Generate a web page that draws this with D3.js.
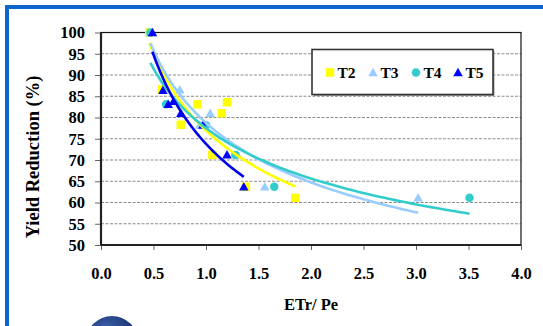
<!DOCTYPE html>
<html>
<head>
<meta charset="utf-8">
<script src="https://cdn.jsdelivr.net/npm/d3@7"></script>
<style>
  body { margin: 0; background: #fff; }
  svg { display: block; }
</style>
</head>
<body>
<div id="chart"></div>
<script>
// values
const seriesNames = ['T2', 'T3', 'T4', 'T5'];
const t2X = [0.46, 0.58, 0.76, 0.92, 1.06, 1.15, 1.20, 1.38, 1.85];
const t2Y = [100, 86.6, 78.3, 83.1, 71.2, 81.0, 83.6, 63.7, 61.1];
const t3X = [0.47, 0.75, 0.94, 1.04, 1.30, 1.56, 3.02];
const t3Y = [100, 86.5, 78.2, 81.0, 71.2, 63.7, 61.1];
const t4X = [0.47, 0.62, 1.00, 1.28, 1.65, 3.51];
const t4Y = [100, 83.1, 78.2, 71.2, 63.7, 61.1];
const t5X = [0.49, 0.59, 0.64, 0.69, 0.76, 0.97, 1.20, 1.36];
const t5Y = [100, 86.4, 83.1, 83.8, 81.0, 78.2, 71.2, 63.7];
const xTicks = [0, 0.5, 1, 1.5, 2, 2.5, 3, 3.5, 4];
const yTicks = [50, 55, 60, 65, 70, 75, 80, 85, 90, 95, 100];

const series = [
  { name: 'T2', xs: t2X, ys: t2Y, color: '#ffff00', line: '#ffff00', shape: 'square' },
  { name: 'T3', xs: t3X, ys: t3Y, color: '#99ccff', line: '#99ccff', shape: 'triangle' },
  { name: 'T4', xs: t4X, ys: t4Y, color: '#33cccc', line: '#33cccc', shape: 'circle' },
  { name: 'T5', xs: t5X, ys: t5Y, color: '#0000ff', line: '#0000ee', shape: 'triangle' }
];

const W = 543, H = 326;
const margin = { top: 32.5, right: 22, bottom: 81, left: 101 };
const width = W - margin.left - margin.right;
const height = H - margin.top - margin.bottom;
const font = '"Liberation Serif", "Times New Roman", serif';

const svg = d3.select('#chart')
  .append('svg')
  .attr('width', W)
  .attr('height', H);

// blue frame and the logo blob at the bottom
const defs = svg.append('defs');
const grad = defs.append('radialGradient').attr('id', 'blob')
  .attr('cx', '40%').attr('cy', '30%').attr('r', '70%');
grad.append('stop').attr('offset', '0%').attr('stop-color', '#3f64ad');
grad.append('stop').attr('offset', '100%').attr('stop-color', '#0b215e');

svg.append('rect')
  .attr('x', 7).attr('y', 7)
  .attr('width', 600).attr('height', 400)
  .attr('fill', 'none')
  .attr('stroke', '#0b64cf')
  .attr('stroke-width', 4);

svg.append('circle')
  .attr('cx', 112).attr('cy', 342).attr('r', 26)
  .attr('fill', 'url(#blob)');

const g = svg.append('g')
  .attr('transform', `translate(${margin.left},${margin.top})`);

const x = d3.scaleLinear().domain([0, 4]).range([0, width]);
const y = d3.scaleLinear().domain([50, 100]).range([height, 0]);

// gridlines
g.append('g')
  .selectAll('line')
  .data(yTicks.filter(v => v > 50 && v < 100))
  .enter()
  .append('line')
  .attr('x1', 0).attr('x2', width)
  .attr('y1', d => y(d)).attr('y2', d => y(d))
  .attr('stroke', '#8c8c8c')
  .attr('stroke-width', 1)
  .attr('stroke-dasharray', '3,1.5');

// axes
const xAxis = g.append('g')
  .attr('transform', `translate(0,${height})`)
  .call(d3.axisBottom(x).tickValues(xTicks).tickFormat(d3.format('.1f')).tickSize(5).tickPadding(17));

const yAxis = g.append('g')
  .call(d3.axisLeft(y).tickValues(yTicks).tickSize(6).tickPadding(10));

[xAxis, yAxis].forEach(ax => {
  ax.select('.domain').remove();
  ax.selectAll('.tick line').attr('stroke', '#666');
  ax.selectAll('.tick text')
    .attr('fill', '#000')
    .style('font-family', font)
    .style('font-weight', 'bold')
    .style('font-size', '16.5px');
});

// plot frame: thin top/right, heavy left/bottom
g.append('rect')
  .attr('width', width).attr('height', height)
  .attr('fill', 'none')
  .attr('stroke', '#111')
  .attr('stroke-width', 1.2);
g.append('line').attr('x1', 0).attr('x2', 0).attr('y1', 0).attr('y2', height)
  .attr('stroke', '#222').attr('stroke-width', 2.2);
g.append('line').attr('x1', 0).attr('x2', width).attr('y1', height).attr('y2', height)
  .attr('stroke', '#222').attr('stroke-width', 2.2);

// markers
function marker(sel, shape, color, size) {
  if (shape === 'square') {
    sel.append('rect')
      .attr('x', -size / 2).attr('y', -size / 2)
      .attr('width', size).attr('height', size)
      .attr('fill', color);
  } else if (shape === 'circle') {
    sel.append('circle').attr('r', size / 2).attr('fill', color);
  } else {
    const h = size * 0.95;
    sel.append('path')
      .attr('d', `M0,${-h * 0.6}L${size / 2 + 0.5},${h * 0.45}L${-size / 2 - 0.5},${h * 0.45}Z`)
      .attr('fill', color);
  }
}

series.forEach(s => {
  const pts = s.xs.map((v, i) => [v, s.ys[i]]);
  g.append('g')
    .selectAll('g')
    .data(pts)
    .enter()
    .append('g')
    .attr('transform', d => `translate(${x(d[0])},${y(d[1])})`)
    .each(function () { marker(d3.select(this), s.shape, s.color, 8.5); });
});

// power trendlines (least squares on log-log, like the spreadsheet)
function powerFit(xs, ys) {
  const lx = xs.map(Math.log), ly = ys.map(Math.log);
  const mx = d3.mean(lx), my = d3.mean(ly);
  let sxy = 0, sxx = 0;
  lx.forEach((v, i) => { sxy += (v - mx) * (ly[i] - my); sxx += (v - mx) * (v - mx); });
  const b = sxy / sxx;
  return { a: Math.exp(my - b * mx), b: b };
}

const line = d3.line().x(d => x(d[0])).y(d => y(d[1]));
series.forEach(s => {
  const fit = powerFit(s.xs, s.ys);
  const x0 = d3.min(s.xs), x1 = d3.max(s.xs);
  const pts = d3.range(0, 61).map(i => {
    const xv = x0 + (x1 - x0) * i / 60;
    return [xv, fit.a * Math.pow(xv, fit.b)];
  });
  g.append('path')
    .datum(pts)
    .attr('d', line)
    .attr('fill', 'none')
    .attr('stroke', s.line)
    .attr('stroke-width', 2.6);
});

// legend
const lg = svg.append('g').attr('transform', 'translate(312,49.5)');
lg.append('rect')
  .attr('x', 1.5).attr('y', 1.5).attr('width', 181).attr('height', 45)
  .attr('fill', '#999');
lg.append('rect')
  .attr('width', 181).attr('height', 45)
  .attr('fill', '#fff')
  .attr('stroke', '#333')
  .attr('stroke-width', 1.6);
const legendX = [18, 61, 104, 146];
series.forEach((s, i) => {
  const item = lg.append('g').attr('transform', `translate(${legendX[i]},23)`);
  marker(item, s.shape, s.color, 8.5);
  item.append('text')
    .attr('x', 7.5).attr('y', 5.5)
    .style('font-family', font)
    .style('font-weight', 'bold')
    .style('font-size', '15.5px')
    .text(seriesNames[i]);
});

// axis titles
svg.append('text')
  .attr('x', margin.left + width / 2)
  .attr('y', 309.5)
  .attr('text-anchor', 'middle')
  .style('font-family', font)
  .style('font-weight', 'bold')
  .style('font-size', '16.5px')
  .text('ETr/ Pe');

svg.append('text')
  .attr('transform', 'translate(39,157) rotate(-90)')
  .attr('text-anchor', 'middle')
  .style('font-family', font)
  .style('font-weight', 'bold')
  .style('font-size', '18.5px')
  .text('Yield Reduction (%)');
</script>
</body>
</html>
